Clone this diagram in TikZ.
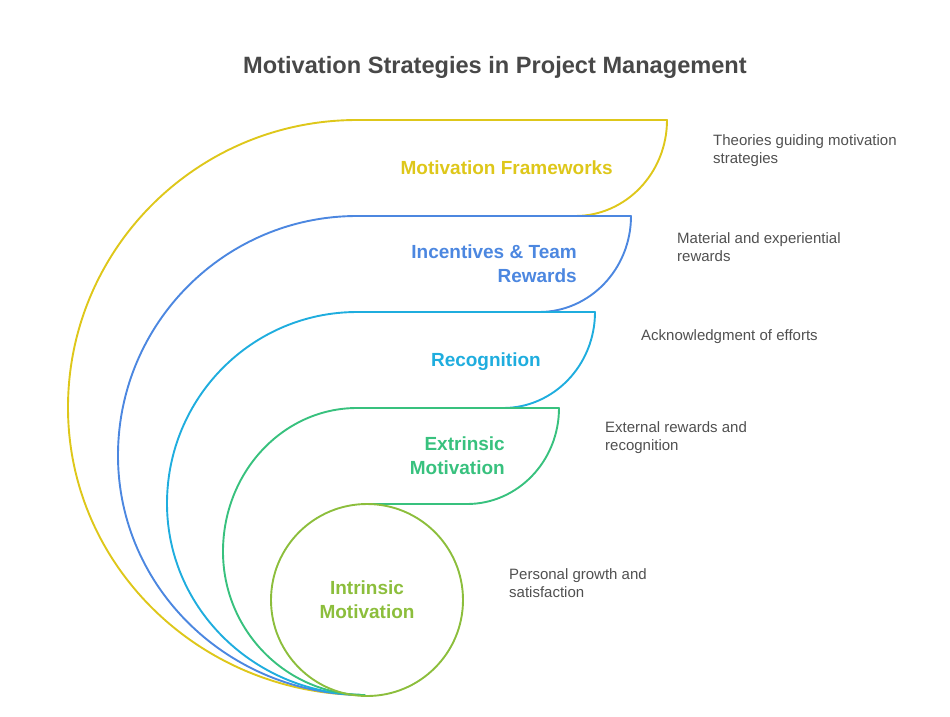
\documentclass[tikz,border=0pt]{standalone}
\usepackage{fontspec}
\setmainfont{Liberation Sans}
\usepackage{tikz}
\usetikzlibrary{
    positioning
}
\definecolor{mfyellow}{RGB}{222,199,26}
\definecolor{ibblue}{RGB}{76,135,224}
\definecolor{rccyan}{RGB}{31,173,222}
\definecolor{exgreen}{RGB}{56,193,126}
\definecolor{inlime}{RGB}{140,190,60}
\definecolor{titlegray}{RGB}{72,72,72}
\definecolor{descgray}{RGB}{80,80,80}
\tikzset{
    band/.style={
        line width=1.9pt,
        line join=round
    },
    ttl/.style={
        font=\fontsize{23.6}{28}\selectfont\bfseries,
        text=titlegray,
        inner sep=0pt
    },
    lbl/.style={
        font=\fontsize{19}{24}\selectfont\bfseries,
        align=right,
        anchor=east,
        inner sep=0pt
    },
    desc/.style={
        font=\fontsize{15}{18}\selectfont,
        text=descgray,
        align=left,
        anchor=west,
        inner sep=0pt
    }
}

\begin{document}
\begin{tikzpicture}[x=1pt,y=-1pt]
\useasboundingbox (0,0) rectangle (950,716);
\node[ttl, anchor=base] (title) at (495,73) {Motivation Strategies in Project Management};
\draw[band, mfyellow] (365,695) arc[start angle=90, end angle=180, x radius=297, y radius=287.5] arc[start angle=180, end angle=270, x radius=289, y radius=287.5] -- (667,120) arc[start angle=0, end angle=90, x radius=92, y radius=96];
\draw[band, ibblue] (365,695) arc[start angle=90, end angle=180, x radius=247, y radius=239.5] arc[start angle=180, end angle=270, x radius=239, y radius=239.5] -- (631,216) arc[start angle=0, end angle=90, x radius=92, y radius=96];
\draw[band, rccyan] (365,695) arc[start angle=90, end angle=180, x radius=198, y radius=191.5] arc[start angle=180, end angle=270, x radius=190, y radius=191.5] -- (595,312) arc[start angle=0, end angle=90, x radius=92, y radius=96];
\draw[band, exgreen] (365,695) arc[start angle=90, end angle=180, x radius=142, y radius=143.5] arc[start angle=180, end angle=270, x radius=134, y radius=143.5] -- (559,408) arc[start angle=0, end angle=90, x radius=92, y radius=96] -- (367,504);
\draw[band, inlime] (367,600) circle[radius=96];
\node[lbl, text=mfyellow] (mf) at (613,168) {Motivation Frameworks};
\node[lbl, text=ibblue] (ib) at (577,264) {Incentives \& Team\\Rewards};
\node[lbl, text=rccyan] (rc) at (541,362) {Recognition};
\node[lbl, text=exgreen] (ex) at (505,456) {Extrinsic\\Motivation};
\node[lbl, text=inlime, align=center, anchor=center] (intr) at (367,600) {Intrinsic\\Motivation};
\node[desc] (mfdesc) at (713,151) {Theories guiding motivation\\strategies};
\node[desc] (ibdesc) at (677,247) {Material and experiential\\rewards};
\node[desc] (rcdesc) at (641,337) {Acknowledgment of efforts};
\node[desc] (exdesc) at (605,438) {External rewards and\\recognition};
\node[desc] (indesc) at (509,583) {Personal growth and\\satisfaction};
\end{tikzpicture}
\end{document}
